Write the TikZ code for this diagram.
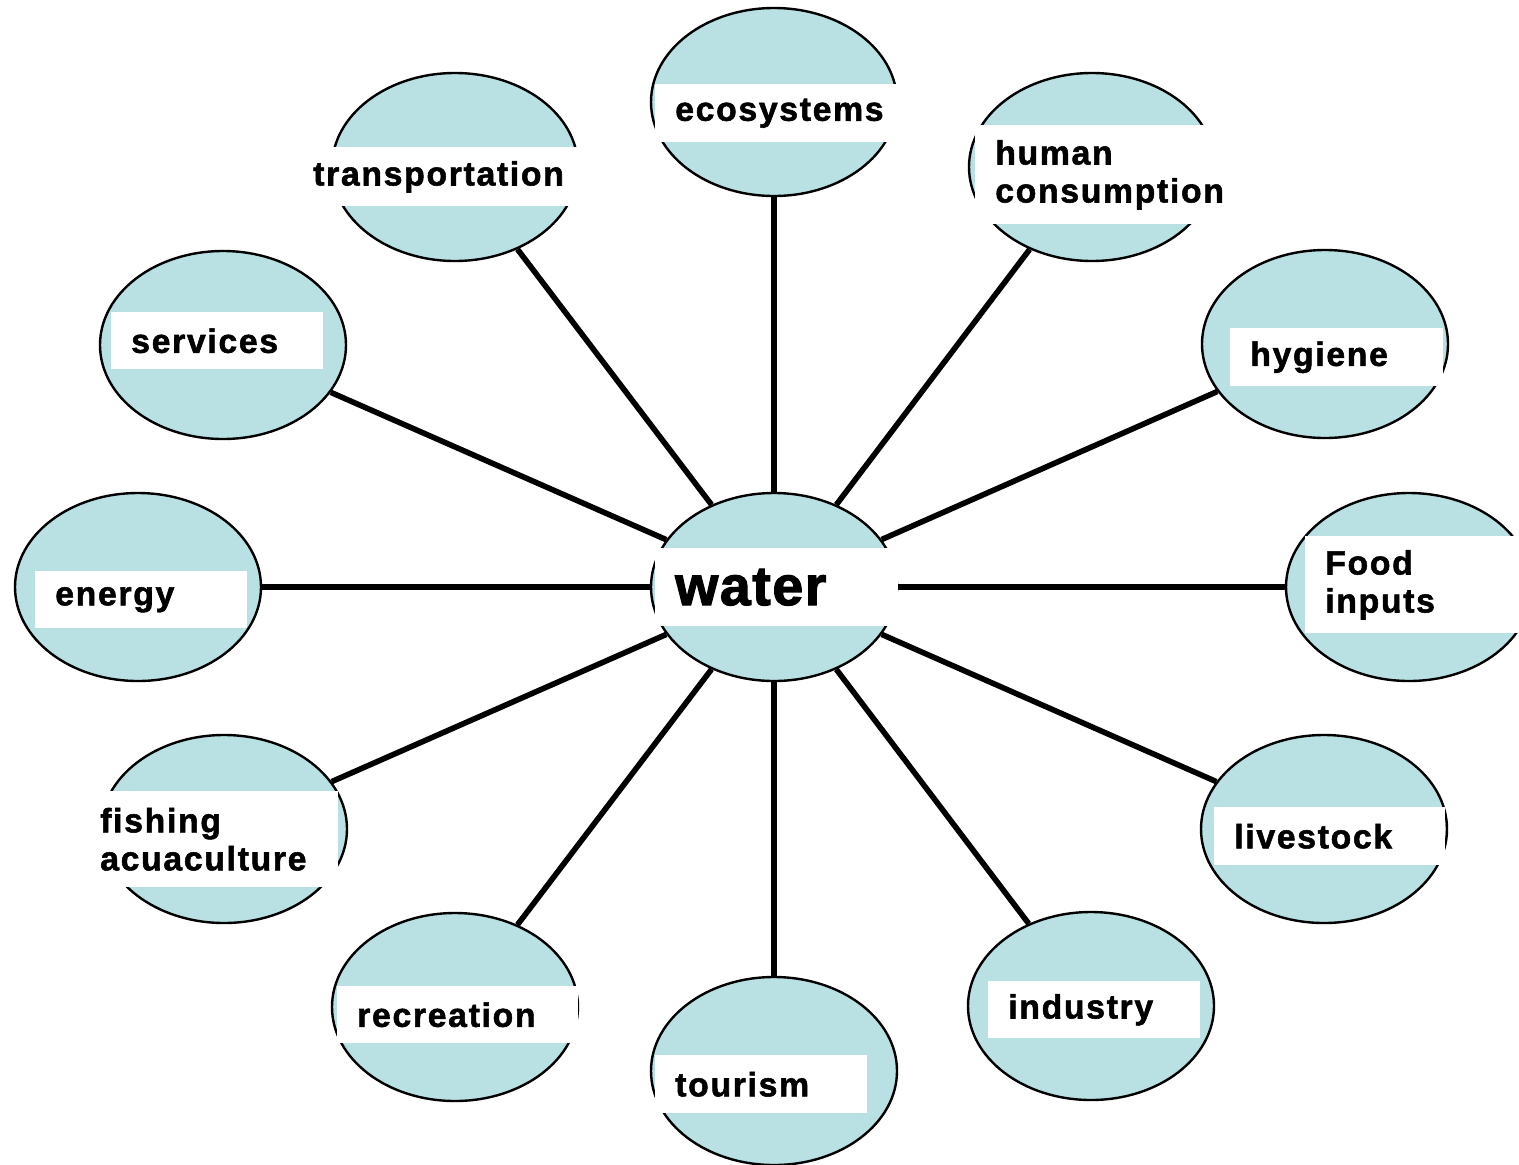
\documentclass[tikz,border=0pt]{standalone}
\usepackage{fontspec}
\usetikzlibrary{shapes.geometric}
\newfontfamily\labelfont{Liberation Sans Bold}[LetterSpace=5,FakeBold=1.6]
\newfontfamily\hubfont{Liberation Sans Bold}[LetterSpace=3,FakeBold=2.2]
\definecolor{pool}{RGB}{185,224,226}

\begin{document}
\begin{tikzpicture}[x=0.75pt, y=-0.75pt,
  blob/.style={ellipse, draw, line width=1.8pt, fill=pool, minimum width=184.5pt, minimum height=141pt, inner sep=0pt},
  spoke/.style={line width=4.2pt},
  tag/.style={fill=white, anchor=north west, inner xsep=15pt, inner ysep=0pt, align=left,
    font=\labelfont\fontsize{25.3}{28.5}\selectfont}]
  \useasboundingbox (0,0) rectangle (1519,1164);

  % the bubbles
  \node[blob] (water) at (774,587)  {};
  \node[blob] (eco)   at (774,102)  {};
  \node[blob] (trans) at (455,167)  {};
  \node[blob] (human) at (1092,167) {};
  \node[blob] (serv)  at (223,345)  {};
  \node[blob] (hyg)   at (1325,344) {};
  \node[blob] (ener)  at (138,587)  {};
  \node[blob] (food)  at (1409,587) {};
  \node[blob] (fish)  at (224,829)  {};
  \node[blob] (live)  at (1324,829) {};
  \node[blob] (recr)  at (455,1007) {};
  \node[blob] (ind)   at (1091,1006) {};
  \node[blob] (tour)  at (774,1071) {};

  % spokes
  \foreach \n in {eco,trans,human,serv,hyg,ener,food,fish,live,recr,ind,tour}
    \draw[spoke] (water) -- (\n);

  % labels
  \node[tag, text width=152.25pt, minimum height=58.5pt, font=\hubfont\fontsize{41.5}{44}\selectfont] (watertag) at (655,548) {water};
  \node[tag, text width=153.75pt, minimum height=43.5pt]  (ecotag)   at (655,84)   {ecosystems};
  \node[tag, text width=185.25pt, minimum height=44.25pt] (transtag) at (293,147)  {transportation};
  \node[tag, text width=165pt,    minimum height=74.25pt] (humantag) at (975,125)  {human\\consumption};
  \node[tag, text width=129pt,    minimum height=42.75pt] (servtag)  at (111,312)  {services};
  \node[tag, text width=129.75pt, minimum height=43.5pt]  (hygtag)   at (1230,328) {hygiene};
  \node[tag, text width=129pt,    minimum height=42.75pt] (enertag)  at (35,571)   {energy};
  \node[tag, text width=130.5pt,  minimum height=72.75pt] (foodtag)  at (1305,536) {Food\\inputs};
  \node[tag, text width=163.5pt,  minimum height=72pt]    (fishtag)  at (80,791)   {fishing\\acuaculture};
  \node[tag, text width=143.25pt, minimum height=43.5pt]  (livetag)  at (1214,807) {livestock};
  \node[tag, text width=150.75pt, minimum height=42.75pt] (recrtag)  at (337,986)  {recreation};
  \node[tag, text width=129pt,    minimum height=42.75pt] (indtag)   at (988,981)  {industry};
  \node[tag, text width=129pt,    minimum height=43.5pt]  (tourtag)  at (655,1055) {tourism};
\end{tikzpicture}
\end{document}
